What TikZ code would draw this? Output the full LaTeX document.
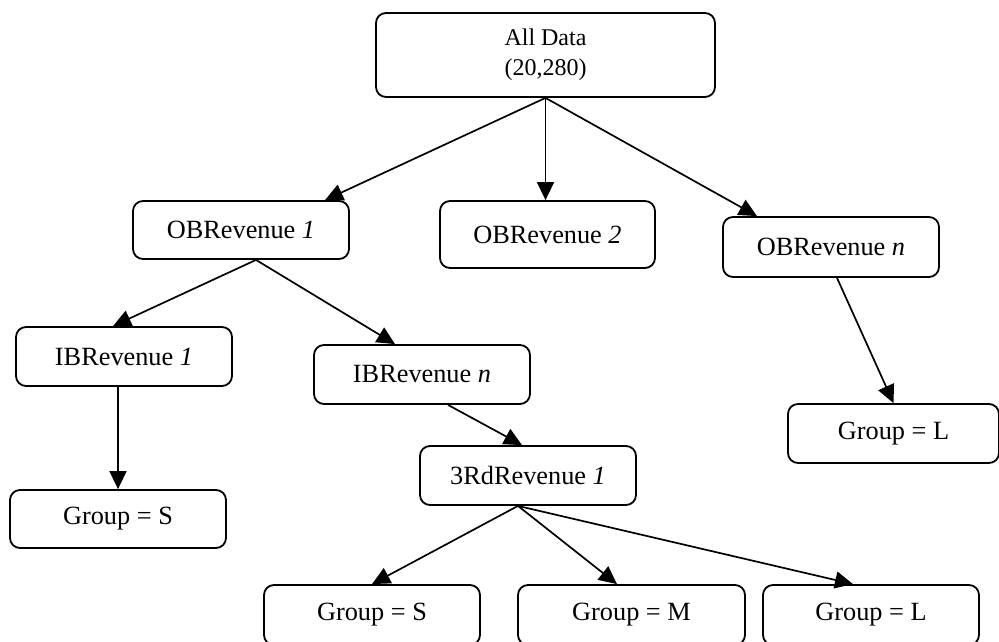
\documentclass[tikz,border=0pt]{standalone}
\usepackage{fontspec}
\setmainfont{Liberation Serif}
\usetikzlibrary{arrows.meta}
\begin{document}
\begin{tikzpicture}[x=1pt,y=-1pt,
  box/.style={draw, line width=1.8pt, rounded corners=10pt, inner sep=0pt,
    align=center, minimum width=216pt, minimum height=59pt,
    font=\fontsize{26.3}{30}\selectfont},
  arr/.style={line width=1.7pt, -{Triangle[length=18pt,width=17pt]}}]
\useasboundingbox (0,0) rectangle (999,641);
\clip (0,0) rectangle (999,641);

% root
\node[box, minimum width=339pt, minimum height=84pt,
  font=\fontsize{24}{30}\selectfont] (all) at (545.5,55) {All Data\\(20,280)};

% outbound revenue level
\node[box, minimum height=58pt] (ob1) at (241,230) {OBRevenue \textit{1}};
\node[box, minimum width=215pt, minimum height=67pt] (ob2) at (547.5,234.5) {OBRevenue \textit{2}};
\node[box, minimum height=60pt] (obn) at (831,247) {OBRevenue \textit{n}};

% inbound revenue level
\node[box] (ib1) at (124,356.5) {IBRevenue \textit{1}};
\node[box] (ibn) at (422,374.5) {IBRevenue \textit{n}};
\node[box, minimum width=211pt] (gLr) at (893.5,433.5) {Group = L};

% third-party revenue level
\node[box] (rd) at (528,475.5) {3RdRevenue \textit{1}};
\node[box, minimum height=58pt] (gSl) at (118,519) {Group = S};

% leaf groups
\node[box, minimum height=60pt] (bS) at (372,615) {Group = S};
\node[box, minimum width=227pt, minimum height=60pt] (bM) at (631.5,615) {Group = M};
\node[box, minimum height=60pt] (bL) at (871,615) {Group = L};

% connectors
\draw[arr] (all.south) -- ([xshift=84pt]ob1.north);
\draw[arr] (all.south) -- (all.south |- ob2.north);
\draw[arr] (all.south) -- ([xshift=-74pt]obn.north);

\draw[arr] ([xshift=15pt]ob1.south) -- ([xshift=-11pt]ib1.north);
\draw[arr] ([xshift=15pt]ob1.south) -- ([xshift=-27pt]ibn.north);
\draw[arr] ([xshift=6pt]obn.south) -- (gLr.north);

\draw[arr] ([xshift=-6pt]ib1.south) -- (gSl.north);
\draw[arr] ([xshift=26pt]ibn.south) -- ([xshift=-6pt]rd.north);

\draw[arr] ([xshift=-10pt]rd.south) -- (bS.north);
\draw[arr] ([xshift=-10pt]rd.south) -- ([xshift=-14.5pt]bM.north);
\draw[arr] ([xshift=-10pt]rd.south) -- ([xshift=-18pt]bL.north);
\end{tikzpicture}
\end{document}
